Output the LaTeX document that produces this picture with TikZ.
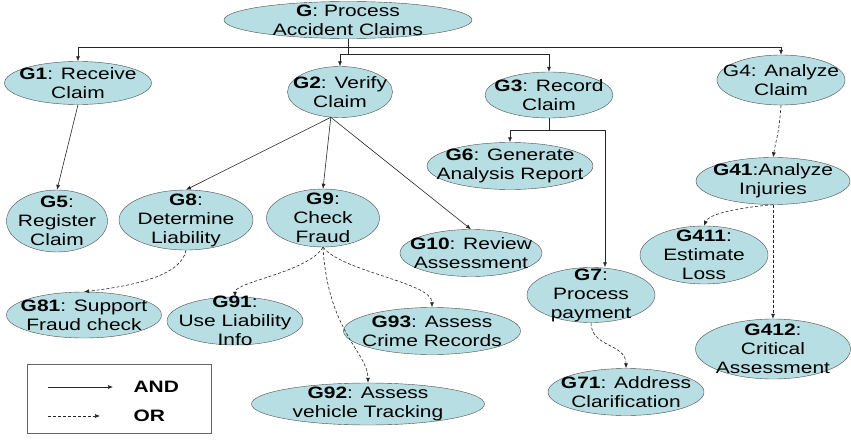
\documentclass[tikz,border=0pt]{standalone}
\usepackage{fontspec}
\setmainfont{Liberation Sans}[FakeStretch=1.27]
\usetikzlibrary{shapes.geometric,arrows.meta}

\definecolor{goalfill}{RGB}{183,222,227}

\tikzset{
  goal/.style={ellipse, draw=black!70, fill=goalfill, inner xsep=-40pt, inner ysep=-15pt,
    align=center, font=\fontsize{16.5}{19}\selectfont},
  andedge/.style={-{Latex[length=5pt,width=4pt]}, black!85, line width=0.6pt},
  oredge/.style={andedge, dash pattern=on 3pt off 2pt},
}

\begin{document}
\begin{tikzpicture}[x=1pt,y=-1pt]
  \useasboundingbox (0,0) rectangle (851,444);

  % goals, top level
  \node[goal, minimum width=248, minimum height=37] (G) at (348,20) {\textbf{G}: Process\\Accident Claims};
  \node[goal, minimum width=147, minimum height=43] (G1) at (78,83) {\textbf{G1}: Receive\\Claim};
  \node[goal, minimum width=105, minimum height=51] (G2) at (340,92) {\textbf{G2}: Verify\\Claim};
  \node[goal, minimum width=128, minimum height=46] (G3) at (549,95) {\textbf{G3}: Record\\Claim};
  \node[goal, minimum width=128, minimum height=50] (G4) at (781,80) {G4: Analyze\\Claim};

  % second level
  \node[goal, minimum width=101, minimum height=62] (G5) at (57,221) {\textbf{G5}:\\Register\\Claim};
  \node[goal, minimum width=134, minimum height=60] (G8) at (186,220) {\textbf{G8}:\\Determine\\Liability};
  \node[goal, minimum width=113, minimum height=58] (G9) at (323,218) {\textbf{G9}:\\Check\\Fraud};
  \node[goal, minimum width=142, minimum height=47] (G10) at (471,253) {\textbf{G10}: Review\\Assessment};
  \node[goal, minimum width=166, minimum height=47] (G6) at (510,166) {\textbf{G6}: Generate\\Analysis Report};
  \node[goal, minimum width=128, minimum height=55] (G7) at (591,295) {\textbf{G7}:\\Process\\payment};
  \node[goal, minimum width=154, minimum height=47] (G41) at (773,181) {\textbf{G41}:Analyze\\Injuries};

  % leaves
  \node[goal, minimum width=128, minimum height=58] (G411) at (704,255) {\textbf{G411}:\\Estimate\\Loss};
  \node[goal, minimum width=155, minimum height=60] (G412) at (773,349) {\textbf{G412}:\\Critical\\Assessment};
  \node[goal, minimum width=156, minimum height=47] (G71) at (626,392) {\textbf{G71}: Address\\Clarification};
  \node[goal, minimum width=177, minimum height=47] (G93) at (432,331) {\textbf{G93}: Assess\\Crime Records};
  \node[goal, minimum width=233, minimum height=42] (G92) at (368,404) {\textbf{G92}: Assess\\vehicle Tracking};
  \node[goal, minimum width=155, minimum height=46] (G81) at (84,315) {\textbf{G81}: Support\\Fraud check};
  \node[goal, minimum width=136, minimum height=48] (G91) at (235,321) {\textbf{G91}:\\Use Liability\\Info};

  % AND links
  \draw[andedge] (G.south) -- ++(0,9) -| (G1.north);
  \draw[andedge] (G.south) -- ++(0,9) -| (G4.north);
  \draw[andedge] (G.south) -- ++(0,16) -| (G2.north);
  \draw[andedge] (G.south) -- ++(0,16) -| (G3.north);
  \draw[andedge] (G1.south) -- (G5.north);
  \draw[andedge] (G2.-110) -- (G8.north);
  \draw[andedge] (G2.-110) -- (G9.north);
  \draw[andedge] (G2.-110) -- (G10.north);
  \draw[andedge] (G3.south) -- ++(0,12) -| (G6.north);
  \draw[andedge] (G3.south) -- ++(0,12) -| ([xshift=14pt]G7.north);

  % OR links
  \draw[oredge] (G4.south) .. controls +(-2,28) and +(4,-22) .. (G41.north);
  \draw[oredge] (G41.south) .. controls +(-35,3) and +(5,-12) .. (G411.north);
  \draw[oredge] (G41.south) -- (G412.north);
  \draw[oredge] (G8.south) .. controls +(-5,28) and +(40,-5) .. (G81.north);
  \draw[oredge] (G9.south) .. controls +(-15,25) and +(0,-15) .. (G91.north);
  \draw[oredge] (G9.south) .. controls +(5,85) and +(0,-30) .. (G92.north);
  \draw[oredge] (G9.south) .. controls +(20,25) and +(0,-25) .. (G93.north);
  \draw[oredge] (G7.south) .. controls +(0,25) and +(0,-25) .. (G71.north);

  % legend
  \node[draw=black!60, minimum width=184, minimum height=69, anchor=north west] (legend) at (27,364) {};
  \coordinate (and-s) at (48,387);
  \coordinate (and-e) at (113,387);
  \coordinate (or-s) at (48,416);
  \coordinate (or-e) at (100,416);
  \draw[andedge] (and-s) -- (and-e);
  \draw[oredge] (or-s) -- (or-e);
  \node[anchor=west, font=\fontsize{16.5}{19}\selectfont\bfseries] (and-lab) at (130,387) {AND};
  \node[anchor=west, font=\fontsize{16.5}{19}\selectfont\bfseries] (or-lab) at (130,416) {OR};
\end{tikzpicture}
\end{document}
